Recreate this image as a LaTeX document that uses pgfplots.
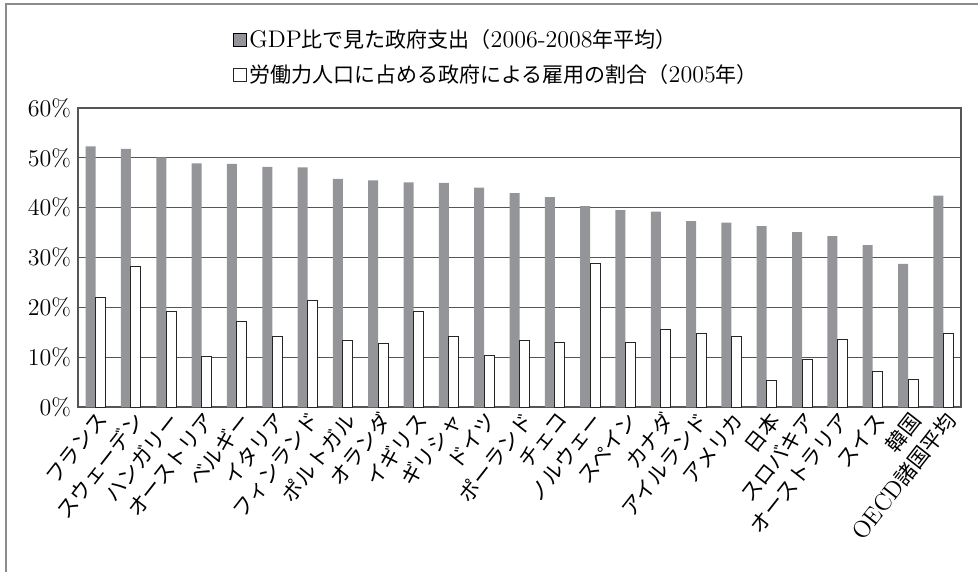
\documentclass[border=0pt]{standalone}
\usepackage{fontspec}
\usepackage{pgfplots}
\pgfplotsset{compat=1.18}
\newfontfamily\jp{Noto Sans CJK JP}
\definecolor{bargray}{HTML}{939598}
\definecolor{gridgray}{HTML}{555555}
\definecolor{framegray}{HTML}{8C8C8C}
\newcommand{\J}[1]{{\jp\fontsize{10.5}{12}\selectfont #1}}

\begin{document}
\begin{tikzpicture}
  \useasboundingbox (-39pt,-82.5pt) rectangle (450pt,203.5pt);
  \begin{axis}[%
      at={(0,0)}, anchor=south west,
      scale only axis,
      width=441.5pt, height=149.5pt,
      ybar=0pt, bar width=5pt,
      xmin=-0.5, xmax=24.5,
      ymin=0, ymax=60,
      xtick={0,...,24},
      xticklabels={\J{フランス},\J{スウェーデン},\J{ハンガリー},\J{オーストリア},
        \J{ベルギー},\J{イタリア},\J{フィンランド},\J{ポルトガル},\J{オランダ},
        \J{イギリス},\J{ギリシャ},\J{ドイツ},\J{ポーランド},\J{チェコ},
        \J{ノルウェー},\J{スペイン},\J{カナダ},\J{アイルランド},\J{アメリカ},
        \J{日本},\J{スロバキア},\J{オーストラリア},\J{スイス},\J{韓国},
        OECD\J{諸国平均}},
      xticklabel style={font=\fontsize{12}{14}\selectfont,
        rotate=52, anchor=north east, inner sep=1pt},
      ytick={0,10,...,60},
      yticklabel={$\pgfmathprintnumber{\tick}\%$},
      yticklabel style={font=\fontsize{12}{14}\selectfont},
      major tick length=0pt,
      ymajorgrids,
      grid style={gridgray, line width=0.6pt},
      axis line style={gridgray, line width=0.6pt},
      legend style={at={(axis description cs:0.1755,1.27)}, anchor=north west,
        draw=none, fill=none, inner sep=0pt, row sep=5pt,
        font=\fontsize{12}{14}\selectfont,
        nodes={inner sep=1pt}, cells={anchor=west}},
      legend image code/.code={%
        \draw[#1, line width=0.5pt] (0pt,-3.25pt) rectangle (6.5pt,3.25pt);},
    ]
    \addplot[fill=bargray, draw=none] coordinates {
      (0,52.3) (1,51.8) (2,50.1) (3,48.9) (4,48.8) (5,48.2) (6,48.1)
      (7,45.8) (8,45.5) (9,45.1) (10,45.0) (11,44.0) (12,42.9) (13,42.1)
      (14,40.3) (15,39.5) (16,39.2) (17,37.3) (18,37.0) (19,36.3) (20,35.1)
      (21,34.3) (22,32.5) (23,28.7) (24,42.4)
    };
    \addplot[fill=white, draw=black!85, line width=0.5pt] coordinates {
      (0,21.9) (1,28.2) (2,19.1) (3,10.2) (4,17.1) (5,14.1) (6,21.3)
      (7,13.4) (8,12.7) (9,19.1) (10,14.1) (11,10.3) (12,13.3) (13,12.9)
      (14,28.7) (15,12.9) (16,15.5) (17,14.7) (18,14.1) (19,5.3) (20,9.5)
      (21,13.6) (22,7.1) (23,5.5) (24,14.7)
    };
    \addlegendentry{GDP\J{比で見た政府支出（}2006-2008\J{年平均）}}
    \addlegendentry{\J{労働力人口に占める政府による雇用の割合（}2005\J{年）}}
  \end{axis}
  \draw[framegray, line width=0.9pt] (-36pt,-82.5pt) -- (-36pt,201.5pt) -- (450pt,201.5pt);
\end{tikzpicture}
\end{document}
